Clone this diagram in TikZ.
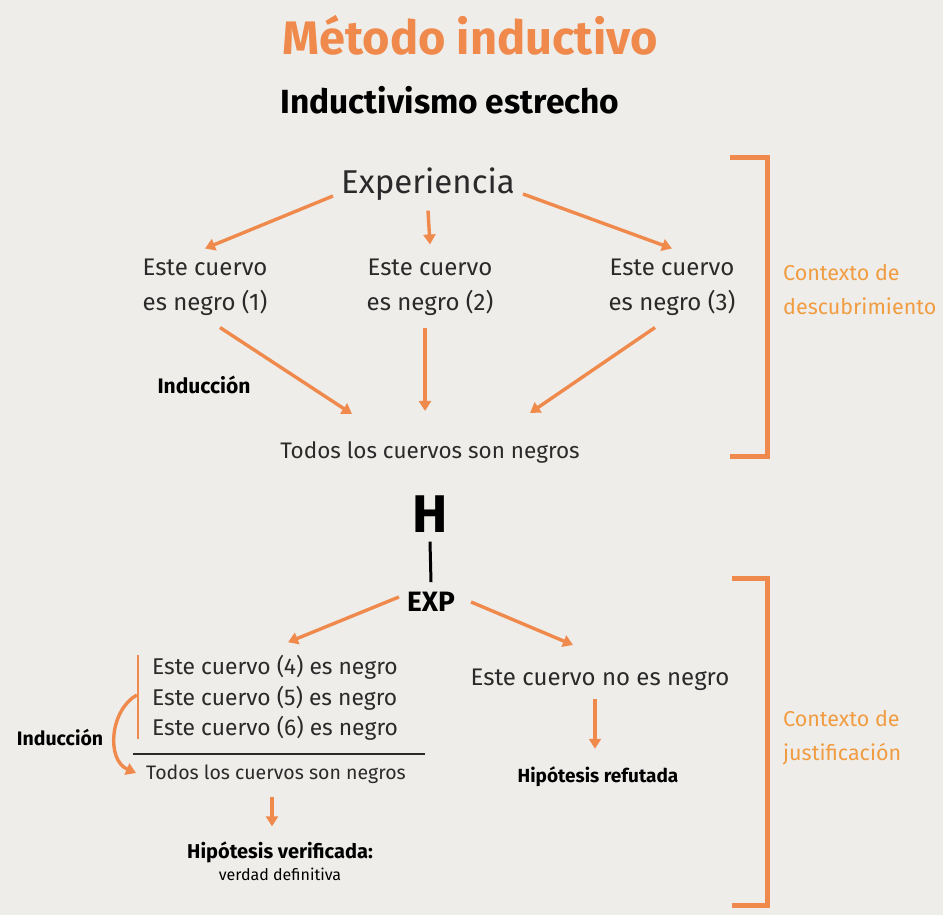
\documentclass[tikz,border=0pt]{standalone}
\usepackage{fontspec}
\setmainfont{Fira Sans}
\usetikzlibrary{positioning,arrows.meta}

\definecolor{naranja}{HTML}{EF8A4C}
\definecolor{fondo}{HTML}{EEEDEA}
\definecolor{tinta}{HTML}{2A2A2A}

\begin{document}
\begin{tikzpicture}[
    x=1pt, y=-1pt,
    titulo/.style = {text=naranja, font=\fontsize{47}{52}\selectfont\bfseries},
    subtitulo/.style = {text=black, font=\fontsize{33.5}{38}\selectfont\bfseries},
    texto/.style = {text=tinta, align=center, inner sep=2pt, font=\fontsize{24}{35}\selectfont},
    chico/.style = {text=tinta, align=center, inner sep=2pt, font=\fontsize{19.5}{24}\selectfont},
    negrita/.style = {text=black, align=center, inner sep=2pt, font=\fontsize{20}{24}\selectfont\bfseries},
    contexto/.style = {text=naranja!85!yellow, align=left, anchor=west, inner sep=0pt, font=\fontsize{21.5}{34}\selectfont},
    flecha/.style = {naranja, line width=3.4pt, -{Triangle[width=12pt,length=10pt]}},
    corchete/.style = {naranja, line width=5pt}
]

\useasboundingbox (0,0) rectangle (943,915);
\fill[fondo] (0,0) rectangle (943,915);

% cabecera
\node[titulo] (metodo) at (470,35) {Método inductivo};
\node[subtitulo] (estrecho) at (450,100) {Inductivismo estrecho};

% contexto de descubrimiento
\node[texto, font=\fontsize{33}{38}\selectfont, inner sep=4pt] (exp) at (428,184) {Experiencia};
\node[texto] (c1) at (205,287) {Este cuervo\\es negro (1)};
\node[texto] (c2) at (430,287) {Este cuervo\\es negro (2)};
\node[texto] (c3) at (672,287) {Este cuervo\\es negro (3)};
\node[texto, font=\fontsize{22.5}{30}\selectfont] (todos1) at (430,452) {Todos los cuervos son negros};
\node[negrita, font=\fontsize{21}{24}\selectfont\bfseries] (ind1) at (204,385) {Inducción};

\draw[flecha] ([xshift=-4pt,yshift=-12pt]exp.west) -- ([yshift=8pt]c1.north);
\draw[flecha] ([yshift=-6pt]exp.south) -- ([yshift=12pt]c2.north);
\draw[flecha] ([xshift=4pt,yshift=-10pt]exp.east) -- ([yshift=8pt]c3.north);
\draw[flecha] ([xshift=15pt,yshift=-10pt]c1.south) -- ([xshift=-78pt,yshift=25pt]todos1.north);
\draw[flecha] ([xshift=-5pt,yshift=-10pt]c2.south) -- ([xshift=-5pt,yshift=28pt]todos1.north);
\draw[flecha] ([xshift=-17pt,yshift=-10pt]c3.south) -- ([xshift=100pt,yshift=26pt]todos1.north);

\draw[corchete] (730,158) -- (767,158) -- (767,456) -- (730,456);
\node[contexto] (desc) at (783,290) {Contexto de\\descubrimiento};

% contexto de justificacion
\node[text=black, font=\fontsize{53}{60}\selectfont\bfseries, inner sep=0pt] (H) at (430,514) {H};
\node[text=black, font=\fontsize{28}{34}\selectfont\bfseries, inner sep=2pt] (EXP) at (431,602) {EXP};
\draw[black, line width=3pt] ([yshift=-9pt]H.south) -- ([yshift=8pt]EXP.north);

\node[texto, align=left, font=\fontsize{22.8}{30.5}\selectfont, inner sep=3pt] (obs) at (275,698)
    {Este cuervo (4) es negro\\Este cuervo (5) es negro\\Este cuervo (6) es negro};
\draw[naranja, line width=2.6pt] ([xshift=-11pt,yshift=-3pt]obs.north west) -- ([xshift=-11pt,yshift=5pt]obs.south west);
\draw[tinta, line width=2pt] ([xshift=-16pt,yshift=-10pt]obs.south west) -- ([xshift=24pt,yshift=-10pt]obs.south east);
\node[chico] (todos2) at (276,774) {Todos los cuervos son negros};
\node[negrita] (verif) at (280,861) {Hipótesis verificada:\\[-2pt]{\mdseries\fontsize{16}{20}\selectfont verdad definitiva}};
\node[negrita, font=\fontsize{19.5}{22}\selectfont\bfseries] (ind2) at (60,738) {Inducción};

\node[texto] (no) at (600,680) {Este cuervo no es negro};
\node[negrita, font=\fontsize{19}{22}\selectfont\bfseries] (refut) at (598,777) {Hipótesis refutada};

\draw[flecha] ([xshift=-6pt,yshift=5pt]EXP.west) -- ([xshift=13pt,yshift=10pt]obs.north);
\draw[flecha] ([xshift=14pt,yshift=0pt]EXP.east) -- ([xshift=-27pt,yshift=22pt]no.north);
\draw[flecha] ([xshift=-5pt,yshift=-6pt]no.south) -- ([xshift=-3pt,yshift=16pt]refut.north);
\draw[flecha] ([xshift=-4pt,yshift=-11pt]todos2.south) -- ([xshift=-8pt,yshift=13pt]verif.north);
\draw[flecha] ([xshift=-12pt,yshift=3pt]obs.west) .. controls ([xshift=-39pt,yshift=-12pt]obs.west) and ([xshift=-38pt,yshift=14pt]todos2.west) .. ([xshift=-8pt,yshift=1pt]todos2.west);

\draw[corchete] (732,578) -- (767,578) -- (767,905) -- (732,905);
\node[contexto] (just) at (783,738) {Contexto de\\justificación};

\end{tikzpicture}
\end{document}
